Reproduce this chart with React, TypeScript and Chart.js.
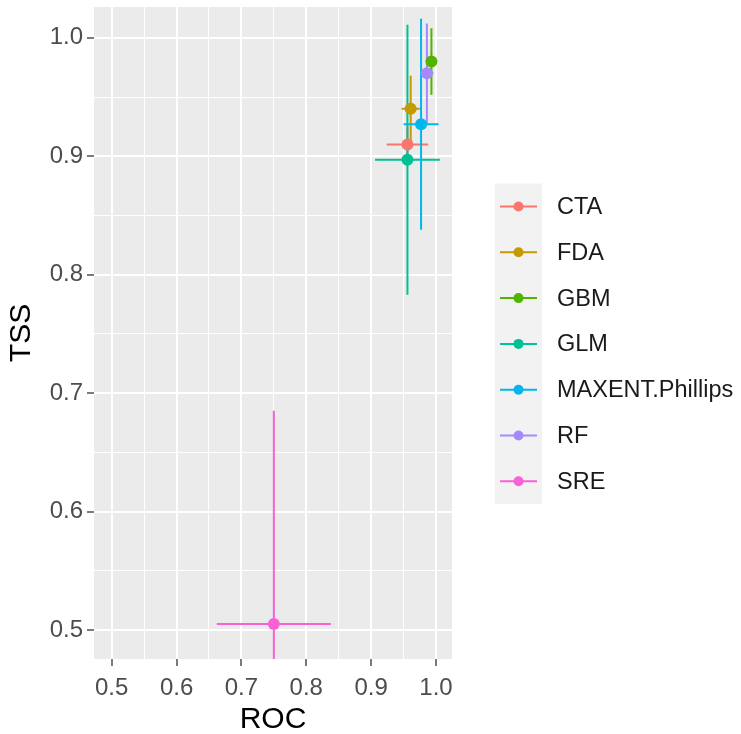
import React, { useEffect, useRef } from 'react';
import { Chart, registerables } from 'chart.js';
Chart.register(...registerables);

const models = ['CTA', 'FDA', 'GBM', 'GLM', 'MAXENT.Phillips', 'RF', 'SRE'];
const rocMean = [0.956, 0.961, 0.993, 0.956, 0.977, 0.986, 0.750];
const rocSd = [0.032, 0.014, 0.005, 0.050, 0.027, 0.010, 0.088];
const tssMean = [0.910, 0.940, 0.980, 0.897, 0.927, 0.970, 0.505];
const tssSd = [0.015, 0.028, 0.028, 0.114, 0.089, 0.042, 0.180];
const colors = ['#F8766D', '#C49A00', '#53B400', '#00C094', '#00B6EB', '#A58AFF', '#FB61D7'];
const xTickValues = [0.5, 0.55, 0.6, 0.65, 0.7, 0.75, 0.8, 0.85, 0.9, 0.95, 1.0];
const yTickValues = [0.5, 0.55, 0.6, 0.65, 0.7, 0.75, 0.8, 0.85, 0.9, 0.95, 1.0];

const FONT = "'Liberation Sans', Arial, sans-serif";

const isMajor = (v: number) => Math.abs(v * 10 - Math.round(v * 10)) < 1e-6;

const panelBg = {
  id: 'panelBg',
  beforeDraw(chart: any) {
    const { ctx, chartArea: a } = chart;
    ctx.save();
    ctx.fillStyle = '#EBEBEB';
    ctx.fillRect(a.left, a.top, a.right - a.left, a.bottom - a.top);
    ctx.restore();
  },
};

const errorBars = {
  id: 'errorBars',
  beforeDatasetsDraw(chart: any) {
    const { ctx, chartArea: a, scales } = chart;
    const xs = scales.x;
    const ys = scales.y;
    ctx.save();
    ctx.beginPath();
    ctx.rect(a.left, a.top, a.right - a.left, a.bottom - a.top);
    ctx.clip();
    ctx.lineWidth = 2;
    models.forEach((m, i) => {
      const cx = xs.getPixelForValue(rocMean[i]);
      const cy = ys.getPixelForValue(tssMean[i]);
      ctx.strokeStyle = colors[i];
      ctx.beginPath();
      ctx.moveTo(cx, ys.getPixelForValue(tssMean[i] - tssSd[i]));
      ctx.lineTo(cx, ys.getPixelForValue(tssMean[i] + tssSd[i]));
      ctx.moveTo(xs.getPixelForValue(rocMean[i] - rocSd[i]), cy);
      ctx.lineTo(xs.getPixelForValue(rocMean[i] + rocSd[i]), cy);
      ctx.stroke();
    });
    ctx.restore();
  },
};

const customLegend = {
  id: 'customLegend',
  afterDraw(chart: any) {
    const { ctx } = chart;
    const keyLeft = 495;
    const keyW = 47;
    const firstY = 206.5;
    const step = 45.8;
    ctx.save();
    ctx.fillStyle = '#F2F2F2';
    ctx.fillRect(keyLeft, firstY - step / 2, keyW, step * models.length);
    models.forEach((m, i) => {
      const y = firstY + i * step;
      ctx.strokeStyle = colors[i];
      ctx.lineWidth = 2;
      ctx.beginPath();
      ctx.moveTo(keyLeft + 5, y);
      ctx.lineTo(keyLeft + keyW - 5, y);
      ctx.stroke();
      ctx.fillStyle = colors[i];
      ctx.beginPath();
      ctx.arc(keyLeft + keyW / 2, y, 5, 0, Math.PI * 2);
      ctx.fill();
      ctx.fillStyle = '#1A1A1A';
      ctx.font = `23.5px ${FONT}`;
      ctx.textBaseline = 'middle';
      ctx.textAlign = 'left';
      ctx.fillText(m, 557, y + 1);
    });
    ctx.restore();
  },
};

function gridOpts() {
  return {
    color: '#FFFFFF',
    lineWidth: (c: any) => (c.tick && isMajor(c.tick.value) ? 2 : 1),
    drawTicks: true,
    tickLength: 7,
    tickWidth: 1.3,
    tickColor: (c: any) => (c.tick && isMajor(c.tick.value) ? '#333333' : 'rgba(0,0,0,0)'),
  };
}

export default function App() {
  const ref = useRef<HTMLCanvasElement | null>(null);
  useEffect(() => {
    document.body.style.margin = '0';
    const canvas = ref.current;
    if (!canvas) return;
    const chart = new Chart(canvas, {
      type: 'scatter',
      data: {
        datasets: models.map((m, i) => ({
          label: m,
          data: [{ x: rocMean[i], y: tssMean[i] }],
          backgroundColor: colors[i],
          borderColor: colors[i],
          pointRadius: 6,
          pointBorderWidth: 0,
        })),
      },
      options: {
        animation: false,
        responsive: true,
        maintainAspectRatio: false,
        layout: { padding: { top: 7, right: 289, left: 0, bottom: 0 } },
        plugins: { legend: { display: false }, tooltip: { enabled: false } },
        scales: {
          x: {
            type: 'linear',
            min: 0.4727,
            max: 1.0247,
            afterBuildTicks: (s: any) => {
              s.ticks = xTickValues.map((v) => ({ value: v }));
            },
            afterFit: (s: any) => {
              s.height = 75;
              s.paddingLeft = 0;
              s.paddingRight = 0;
            },
            grid: gridOpts(),
            border: { display: false },
            ticks: {
              autoSkip: false,
              maxRotation: 0,
              padding: 8,
              color: '#4D4D4D',
              font: { family: FONT, size: 24 },
              callback: (v: any) => (isMajor(Number(v)) ? Number(v).toFixed(1) : ''),
            },
            title: {
              display: true,
              text: 'ROC',
              color: '#000000',
              font: { family: FONT, size: 30 },
              padding: { top: 0, bottom: -4 },
            },
          },
          y: {
            type: 'linear',
            min: 0.4755,
            max: 1.026,
            afterBuildTicks: (s: any) => {
              s.ticks = yTickValues.map((v) => ({ value: v }));
            },
            afterFit: (s: any) => {
              s.width = 94;
              s.paddingTop = 0;
              s.paddingBottom = 0;
            },
            grid: gridOpts(),
            border: { display: false },
            ticks: {
              autoSkip: false,
              padding: 4,
              color: '#4D4D4D',
              font: { family: FONT, size: 24 },
              callback: (v: any) => (isMajor(Number(v)) ? Number(v).toFixed(1) : ''),
            },
            title: {
              display: true,
              text: 'TSS',
              color: '#000000',
              font: { family: FONT, size: 30 },
              padding: { top: 4, bottom: 0 },
            },
          },
        },
      },
      plugins: [panelBg, errorBars, customLegend],
    } as any);
    return () => chart.destroy();
  }, []);
  return (
    <div style={{ width: 741, height: 734, position: 'relative', background: '#FFFFFF' }}>
      <canvas ref={ref} />
    </div>
  );
}
